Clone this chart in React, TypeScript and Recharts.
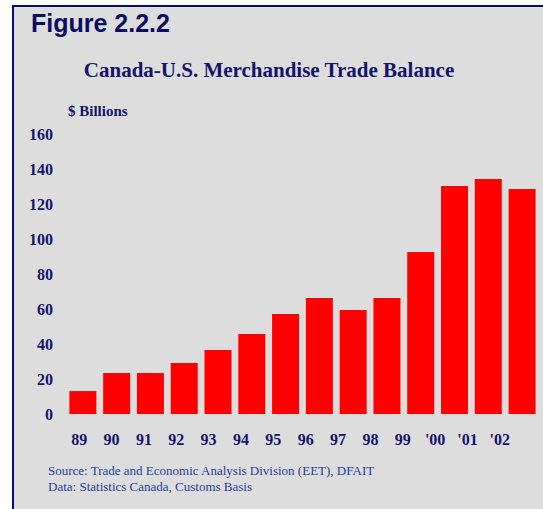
import { BarChart, Bar, XAxis, YAxis } from 'recharts';

// Canada-U.S. merchandise trade balance, $ billions
const years = ['89', '90', '91', '92', '93', '94', '95', '96', '97', '98', '99', "'00", "'01", "'02"];
const balance = [13.1, 23.4, 23.4, 29.1, 36.6, 45.7, 57.1, 66.3, 59.4, 66.3, 92.6, 130.3, 134.3, 128.6];
const yTicks = [0, 20, 40, 60, 80, 100, 120, 140, 160];

const data = years.map((year, i) => ({ year, value: balance[i] }));

const NAVY = '#14146e';
const SERIF = '"Liberation Serif", "Times New Roman", serif';
const SANS = '"Liberation Sans", Arial, sans-serif';

export default function App() {
  return (
    <div
      style={{
        position: 'fixed',
        top: 0,
        left: 0,
        width: 543,
        height: 509,
        background: '#ffffff',
        overflow: 'hidden',
      }}
    >
      {/* panel frame */}
      <div
        style={{
          position: 'absolute',
          left: 12,
          top: 5,
          width: 560,
          height: 540,
          background: '#dddddd',
          borderLeft: '2px solid #0a0a80',
          borderTop: '2px solid #0a0a80',
        }}
      />
      <div style={{ position: 'absolute', left: 0, top: 0 }}>
        <BarChart
          width={543}
          height={509}
          data={data}
          margin={{ top: 134, right: 4, bottom: 65, left: 0 }}
        >
          <XAxis
            xAxisId="bars"
            dataKey="year"
            hide
            height={0}
            padding={{ left: 3, right: 0 }}
          />
          <XAxis
            xAxisId="labels"
            dataKey="year"
            height={30}
            padding={{ left: 0, right: 23 }}
            axisLine={false}
            tickLine={false}
            tickSize={0}
            tickMargin={20}
            interval={0}
            tick={{ fill: NAVY, fontFamily: SERIF, fontWeight: 'bold', fontSize: 16 }}
          />
          <YAxis
            width={63}
            domain={[0, 160]}
            ticks={yTicks}
            interval={0}
            axisLine={false}
            tickLine={false}
            tickSize={0}
            tickMargin={10}
            tick={{ fill: NAVY, fontFamily: SERIF, fontWeight: 'bold', fontSize: 16 }}
          />
          <Bar
            xAxisId="bars"
            dataKey="value"
            fill="#ff0000"
            barCategoryGap="10%"
            isAnimationActive={false}
          />
        </BarChart>
      </div>
      <svg
        width={543}
        height={509}
        style={{ position: 'absolute', left: 0, top: 0, pointerEvents: 'none' }}
      >
        <text x={31} y={32} fill="#0c0c62" fontFamily={SANS} fontWeight="bold" fontSize={25}>
          Figure 2.2.2
        </text>
        <text
          x={269}
          y={77}
          textAnchor="middle"
          fill={NAVY}
          fontFamily={SERIF}
          fontWeight="bold"
          fontSize={21}
        >
          Canada-U.S. Merchandise Trade Balance
        </text>
        <text x={68} y={116} fill={NAVY} fontFamily={SERIF} fontWeight="bold" fontSize={15}>
          $ Billions
        </text>
        <text x={48} y={475} fill="#2341a0" fontFamily={SERIF} fontSize={13}>
          Source: Trade and Economic Analysis Division (EET), DFAIT
        </text>
        <text x={48} y={491} fill="#2341a0" fontFamily={SERIF} fontSize={13}>
          Data: Statistics Canada, Customs Basis
        </text>
      </svg>
    </div>
  );
}
